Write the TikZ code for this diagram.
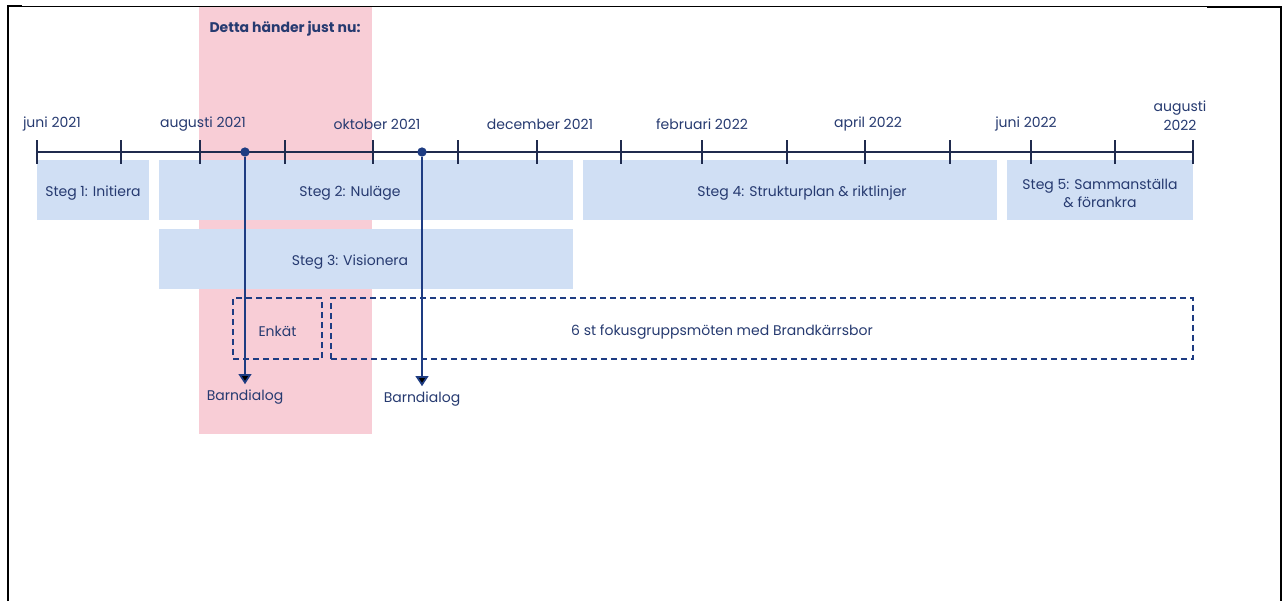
\documentclass[tikz,border=0pt]{standalone}
\usepackage{fontspec}
\setmainfont{Poppins}
\usetikzlibrary{arrows.meta,positioning}

\definecolor{textnavy}{RGB}{38,58,112}
\definecolor{axisnavy}{RGB}{32,43,78}
\definecolor{linenavy}{RGB}{30,60,130}
\definecolor{boxblue}{RGB}{208,223,244}
\definecolor{nowpink}{RGB}{248,205,214}

\begin{document}
\begin{tikzpicture}[x=0.75pt,y=-0.75pt,>={Triangle[length=7.5pt,width=9.5pt]},
				every node/.style={font=\fontsize{10.5}{14}\selectfont,text=textnavy},
				every label/.style={yshift=-2.5pt,align=center},
				stegbox/.style={fill=boxblue,minimum height=45pt,inner sep=0pt},
				dashbox/.style={draw=linenavy,line width=1.3pt,dash pattern=on 4.5pt off 3pt,minimum height=45.75pt,inner sep=0pt},
				axistick/.style={draw=axisnavy,line width=1.5pt},
				dot/.style={circle,fill=linenavy,minimum size=7pt,inner sep=0pt}]
				
				\useasboundingbox (0,0) rectangle (1285,601);
				
				\fill[nowpink] (199,7) rectangle (372,434);
				\draw[line width=0.75pt] (8,6) -- (1207,6);
				\draw[line width=1.5pt] (8,601) -- (8,6) -- (22,6);
				\draw[line width=1.5pt] (1207,7) -- (1281,7) -- (1281,601);
				
				\node[font=\fontsize{10.5}{14}\selectfont\bfseries] (rubrik) at (285,29) {Detta händer just nu:};
				
				\node (jun21) at (52,124) {juni 2021};
				\node (aug21) at (203,124) {augusti 2021};
				\node (okt21) at (377,124) {oktober 2021};
				\node (dec21) at (540,124) {december 2021};
				\node (feb22) at (702,124) {februari 2022};
				\node (apr22) at (868,124) {april 2022};
				\node (jun22) at (1026,124) {juni 2022};
				\node[align=center] (aug22) at (1180,116) {augusti\\2022};
				
				\node[stegbox,minimum width=84pt,label={center:{Steg 1: Initiera}}] (steg1) at (93,190) {};
				\node[stegbox,minimum width=310.5pt,label={[xshift=-12pt]center:{Steg 2: Nuläge}}] (steg2) at (366,190) {};
				\node[stegbox,minimum width=310.5pt,label={[xshift=9pt]center:{Steg 4: Strukturplan \& riktlinjer}}] (steg4) at (790,190) {};
				\node[stegbox,minimum width=139.5pt,label={center:{Steg 5: Sammanställa\\\& förankra}}] (steg5) at (1100,190) {};
				\node[stegbox,minimum width=310.5pt,label={[xshift=-12pt]center:{Steg 3: Visionera}}] (steg3) at (366,259) {};
				
				\coordinate (start) at (37,152);
				\coordinate (slut) at (1193,152);
				\draw[axisnavy,line width=1.5pt] (start) -- (slut);
				\foreach \x in {37,121,200,285,373,458,537,621,702,787,865,950,1031,1115,1193}
					\draw[axistick] (\x,140) -- (\x,164);
				
				\node[dashbox,minimum width=66.75pt,label={center:{Enkät}}] (enkat) at (277.5,328.5) {};
				\node[dashbox,minimum width=646.5pt,label={[xshift=-30pt]center:{6 st fokusgruppsmöten med Brandkärrsbor}}] (fokus) at (762,328.5) {};
				
				\node[dot] (p1) at (245,152) {};
				\node[dot] (p2) at (422,152) {};
				\node[inner sep=1pt] (b1) at (245,397) {Barndialog};
				\node[inner sep=1pt] (b2) at (422,399) {Barndialog};
				
				\path[->,draw=linenavy,line width=1.3pt,shorten >=3pt]
				(p1) edge (b1.north)
				(p2) edge (b2.north);
				
				\end{tikzpicture}
\end{document}
